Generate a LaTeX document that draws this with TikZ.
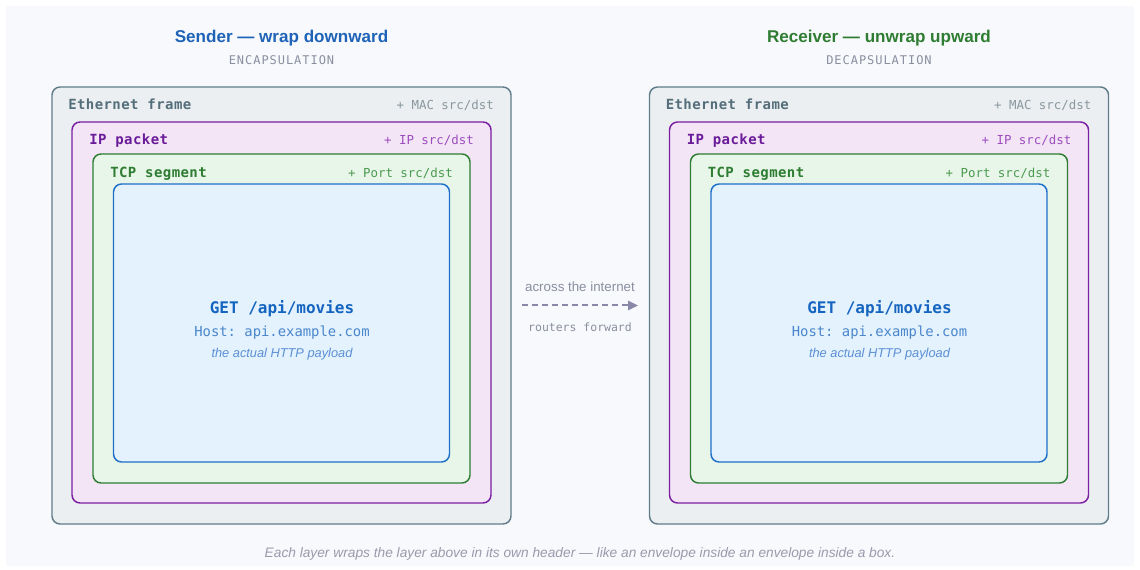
\documentclass[tikz,border=0pt]{standalone}
\usepackage{fontspec}
\setmainfont{Liberation Sans}
\setmonofont{DejaVu Sans Mono}
\usetikzlibrary{arrows.meta}

\newlength\pxu
\setlength\pxu{0.75pt}

\definecolor{pagebg}{HTML}{F8F9FC}
\definecolor{ethfill}{HTML}{ECEFF1}
\definecolor{ethline}{HTML}{607D8B}
\definecolor{ethtext}{HTML}{546E7A}
\definecolor{ethnote}{HTML}{8A979F}
\definecolor{ipfill}{HTML}{F3E5F5}
\definecolor{ipline}{HTML}{7B1FA2}
\definecolor{iptext}{HTML}{6A1B9A}
\definecolor{ipnote}{HTML}{9C4DBF}
\definecolor{tcpfill}{HTML}{E8F5E9}
\definecolor{tcpline}{HTML}{2E7D32}
\definecolor{tcptext}{HTML}{2E7D32}
\definecolor{tcpnote}{HTML}{4C9A50}
\definecolor{payfill}{HTML}{E3F2FD}
\definecolor{payline}{HTML}{1E6FC8}
\definecolor{paytext}{HTML}{1565C0}
\definecolor{payhost}{HTML}{4A86CC}
\definecolor{paynote}{HTML}{5C8FD6}
\definecolor{sendblue}{HTML}{1E63B8}
\definecolor{recvgreen}{HTML}{2E7D32}
\definecolor{subgray}{HTML}{8A8FA0}
\definecolor{netgray}{HTML}{8A88A8}
\definecolor{capgray}{HTML}{9A9AAC}

\tikzset{
  layer/.style={draw, line width=1.1pt, rounded corners=6pt, inner sep=0pt},
  ethbox/.style={layer, draw=ethline, fill=ethfill, minimum width=459\pxu, minimum height=437\pxu},
  ipbox/.style={layer, draw=ipline, fill=ipfill, minimum width=419\pxu, minimum height=381\pxu},
  tcpbox/.style={layer, draw=tcpline, fill=tcpfill, minimum width=377\pxu, minimum height=329\pxu},
  paybox/.style={layer, draw=payline, fill=payfill, minimum width=336\pxu, minimum height=278\pxu},
  hdrname/.style={anchor=base west, inner sep=0pt,
    font=\fontsize{10.5pt}{12pt}\ttfamily\bfseries\addfontfeatures{LetterSpace=3}},
  hdrnote/.style={anchor=base east, inner sep=0pt,
    font=\fontsize{9.3pt}{11pt}\ttfamily},
  sidetitle/.style={anchor=base, inner sep=0pt, font=\fontsize{12.8pt}{15pt}\bfseries},
  sidesub/.style={anchor=base, inner sep=0pt, text=subgray,
    font=\fontsize{9pt}{11pt}\ttfamily\addfontfeatures{LetterSpace=8}},
  paymain/.style={anchor=base, inner sep=0pt, text=paytext, font=\fontsize{12pt}{14pt}\ttfamily\bfseries},
  payhostline/.style={anchor=base, inner sep=0pt, text=payhost, font=\fontsize{10.4pt}{12pt}\ttfamily},
  paynoteline/.style={anchor=base, inner sep=0pt, text=paynote, font=\fontsize{9.6pt}{11pt}\itshape},
}

% one nested stack of headers around the HTTP payload
\newcommand\encstack[4]{%
  \begin{scope}[xshift=#2\pxu]
    \node[sidetitle, text=#3] (#1-title) at (281.5,42.5) {#4};
    \node[ethbox] (#1-eth) at (281.5,305.5) {};
    \node[ipbox]  (#1-ip)  at (281.5,312.5) {};
    \node[tcpbox] (#1-tcp) at (281.5,318.5) {};
    \node[paybox] (#1-pay) at (281.5,323) {};
    \node[hdrname, text=ethtext] (#1-ethname) at (68,110) {Ethernet frame};
    \node[hdrnote, text=ethnote] (#1-ethnote) at (494,110) {+ MAC src/dst};
    \node[hdrname, text=iptext]  (#1-ipname)  at (89,145) {IP packet};
    \node[hdrnote, text=ipnote]  (#1-ipnote)  at (474,145) {+ IP src/dst};
    \node[hdrname, text=tcptext] (#1-tcpname) at (110,177.5) {TCP segment};
    \node[hdrnote, text=tcpnote] (#1-tcpnote) at (453,177.5) {+ Port src/dst};
    \node[paymain]     (#1-get)  at (282,314) {GET /api/movies};
    \node[payhostline] (#1-host) at (282,337) {Host: api.example.com};
    \node[paynoteline] (#1-what) at (282,358) {the actual HTTP payload};
  \end{scope}}

\begin{document}
\begin{tikzpicture}[x=\pxu, y=-\pxu]
  \useasboundingbox (0,0) rectangle (1140,570);
  \fill[white] (0,0) rectangle (1140,570);
  \fill[pagebg] (6,6) rectangle (1134,566);

  \encstack{snd}{0}{sendblue}{Sender — wrap downward}
  \node[sidesub] (snd-sub) at (281.5,64.5) {ENCAPSULATION};

  \encstack{rcv}{597.5}{recvgreen}{Receiver — unwrap upward}
  \node[sidesub] (rcv-sub) at (879,64.5) {DECAPSULATION};

  % the trip between the two hosts
  \node[anchor=base, inner sep=0pt, text=subgray, font=\fontsize{9pt}{11pt}] (net-top) at (580,291.5) {across the internet};
  \coordinate (net-from) at (522,305.5);
  \coordinate (net-to) at (638,305.5);
  \draw[netgray, line width=1.5pt, dash pattern=on 4.5pt off 3pt,
        -{Triangle[length=7.5pt,width=7pt]}] (net-from) -- (net-to);
  \node[anchor=base, inner sep=0pt, text=subgray, font=\fontsize{8.6pt}{10pt}\ttfamily] (net-bot) at (580,331.5) {routers forward};

  \node[anchor=base, inner sep=0pt, text=capgray, font=\fontsize{10.3pt}{12pt}\itshape] (caption) at (580,557.5)
    {Each layer wraps the layer above in its own header — like an envelope inside an envelope inside a box.};
\end{tikzpicture}
\end{document}
